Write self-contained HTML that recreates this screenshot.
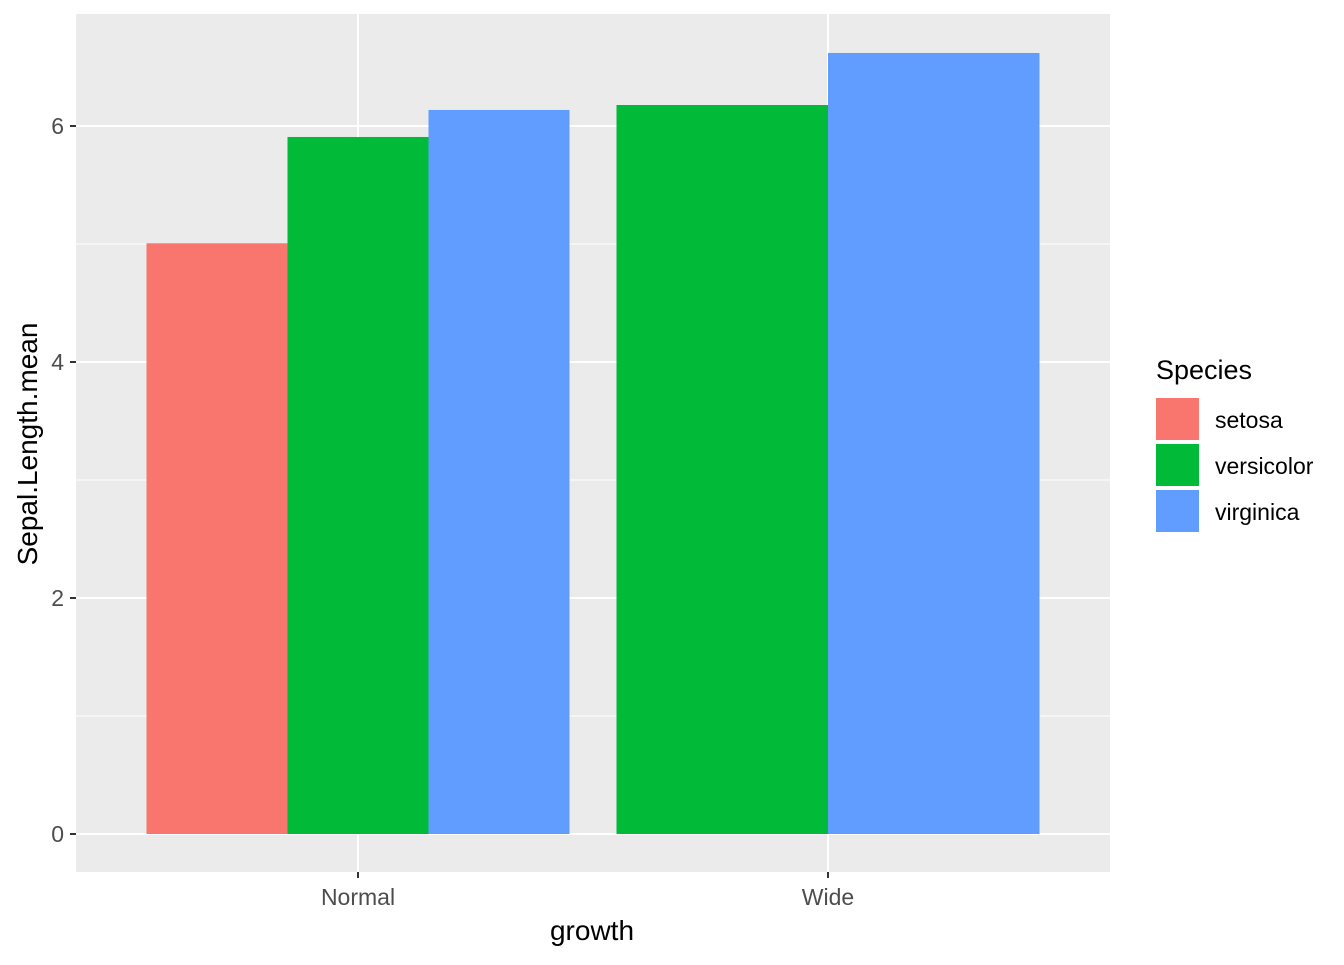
<!DOCTYPE html>
<html><head><meta charset="utf-8"><style>
body{margin:0;background:#fff;font-family:"Liberation Sans",Arial,sans-serif;}
</style></head><body>
<svg id="c" width="1344" height="960" xmlns="http://www.w3.org/2000/svg">
<rect x="76" y="14" width="1034" height="858" fill="#ebebeb"/>
<g id="grid"></g><g id="bars"></g><g id="axes"></g>
<text x="592" y="940" font-size="28" text-anchor="middle" fill="#000">growth</text>
<text transform="translate(37,444) rotate(-90)" font-size="28" text-anchor="middle" fill="#000">Sepal.Length.mean</text>
<g id="legend">
<text x="1156" y="379" font-size="27" fill="#000">Species</text>
</g>
</svg>
<script>
const categories=["Normal","Wide"];
const species=["setosa","versicolor","virginica"];
const colors=["#F8766D","#00BA38","#619CFF"];
const setosaVals=[5.006,null];
const versicolorVals=[5.907,6.178];
const virginicaVals=[6.136,6.619];
const yTicks=[0,2,4,6];
const series=[setosaVals,versicolorVals,virginicaVals];
const NS="http://www.w3.org/2000/svg";
const y=v=>834-v*118;
const xc=i=>358+i*470;
const band=423;
function mk(tag,attrs,parent){const e=document.createElementNS(NS,tag);for(const k in attrs)e.setAttribute(k,attrs[k]);parent.appendChild(e);return e;}
const grid=document.getElementById('grid'),bars=document.getElementById('bars'),axes=document.getElementById('axes');
for(let i=0;i<yTicks.length-1;i++){const m=(yTicks[i]+yTicks[i+1])/2;
 const l=mk('line',{x1:76,x2:1110,y1:y(m),y2:y(m),stroke:'#fff','stroke-width':1},grid);
 
 }
yTicks.forEach(t=>{const l=mk('line',{x1:76,x2:1110,y1:y(t),y2:y(t),stroke:'#fff','stroke-width':2},grid);
 
 
 const tk=mk('line',{x1:70,x2:76,y1:y(t),y2:y(t),stroke:'#333','stroke-width':2},axes);
 
 
 const tx=mk('text',{x:64,y:y(t)+8,'font-size':23,'text-anchor':'end',fill:'#4d4d4d'},axes);tx.textContent=t;
 
 });
categories.forEach((c,i)=>{const l=mk('line',{x1:xc(i),x2:xc(i),y1:14,y2:872,stroke:'#fff','stroke-width':2},grid);
 
 
 const tk=mk('line',{x1:xc(i),x2:xc(i),y1:872,y2:878,stroke:'#333','stroke-width':2},axes);
 
 
 const tx=mk('text',{x:xc(i),y:905,'font-size':23,'text-anchor':'middle',fill:'#4d4d4d'},axes);tx.textContent=c;
 
 
 const present=series.map((s,k)=>k).filter(k=>series[k][i]!=null);
 const w=band/present.length;
 present.forEach((k,j)=>{const v=series[k][i];
  const r=mk('rect',{x:xc(i)-band/2+j*w,y:y(v),width:w,height:y(0)-y(v),fill:colors[k]},bars);
  
  });});
const lg=document.getElementById('legend');
species.forEach((s,k)=>{const yy=398+k*46;
 const r=mk('rect',{x:1156,y:yy,width:43,height:42,fill:colors[k]},lg);
 
 
 const t=mk('text',{x:1215,y:yy+30,'font-size':23,fill:'#000'},lg);t.textContent=s;
 
 });
</script>
</body></html>
